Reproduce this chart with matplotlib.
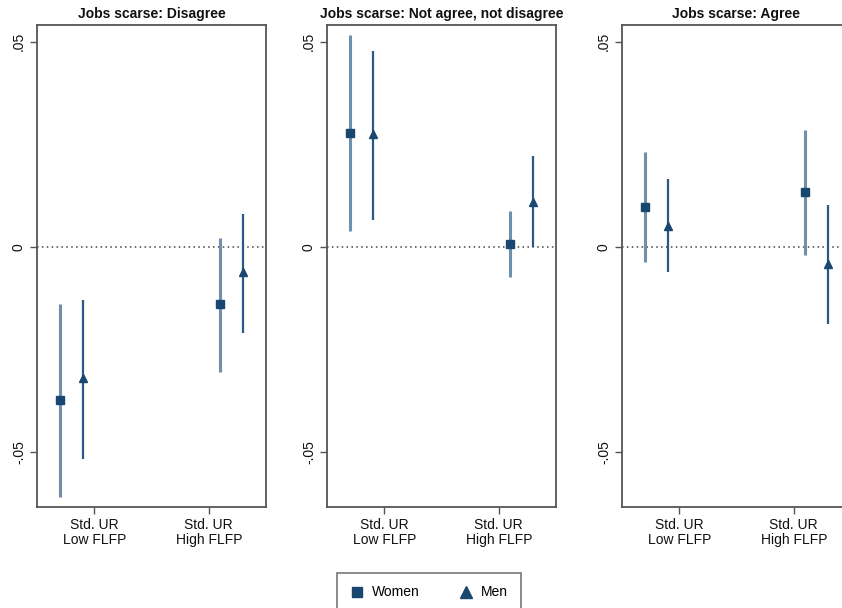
import matplotlib
matplotlib.use("Agg")
import matplotlib.pyplot as plt
from matplotlib.lines import Line2D

plt.rcParams['font.family'] = ['Liberation Sans', 'DejaVu Sans']

panels = ["Jobs scarse: Disagree", "Jobs scarse: Not agree, not disagree", "Jobs scarse: Agree"]
groups = ["Std. UR\nLow FLFP", "Std. UR\nHigh FLFP"]

# Women: [low, high] per panel
women_est = [[-0.0373, -0.0139], [0.0278, 0.0007], [0.0097, 0.0134]]
women_lo  = [[-0.0609, -0.0304], [0.0039, -0.0073], [-0.0037, -0.0019]]
women_hi  = [[-0.0139, 0.0022], [0.0516, 0.0088], [0.0231, 0.0285]]
# Men
men_est = [[-0.0319, -0.0061], [0.0275, 0.0110], [0.0051, -0.0041]]
men_lo  = [[-0.0516, -0.0209], [0.0066, 0.0000], [-0.0061, -0.0188]]
men_hi  = [[-0.0129, 0.0080], [0.0477, 0.0222], [0.0166, 0.0102]]

W, H = 842, 608
fig = plt.figure(figsize=(W / 100, H / 100), dpi=100)

lefts = [37, 327, 622]
ax_w = 229
ax_top, ax_bot = 25, 507

navy = '#1a476f'
women_ci = '#6f8fae'
men_ci = '#2b5986'
spine_c = '#555555'

pos = [1, 2]
w_off = [-0.3, 0.1]
m_off = [-0.1, 0.3]

for i in range(3):
    ax = fig.add_axes([lefts[i] / W, (H - ax_bot) / H, ax_w / W, (ax_bot - ax_top) / H])
    ax.set_xlim(0.5, 2.5)
    ax.set_ylim(-0.0633, 0.0541)
    ax.axhline(0, color='#444444', lw=1.1, ls=(0, (1, 2.2)), zorder=1)
    for j in range(2):
        xw = pos[j] + w_off[j]
        xm = pos[j] + m_off[j]
        ax.plot([xw, xw], [women_lo[i][j], women_hi[i][j]], color=women_ci, lw=2.2, solid_capstyle='butt', zorder=2)
        ax.plot([xw], [women_est[i][j]], marker='s', ms=5.8, color=navy, zorder=3)
        ax.plot([xm, xm], [men_lo[i][j], men_hi[i][j]], color=men_ci, lw=1.6, solid_capstyle='butt', zorder=2)
        ax.plot([xm], [men_est[i][j]], marker='^', ms=6.3, color=navy, zorder=3)
    ax.set_xticks(pos)
    ax.set_xticklabels(groups, fontsize=10, color='#111111', linespacing=1.1)
    ax.set_yticks([-0.05, 0, 0.05])
    ax.set_yticklabels(['-.05', '0', '.05'], fontsize=10, rotation=90, va='center', color='#111111')
    ax.tick_params(axis='both', length=5, width=1, color=spine_c, pad=3)
    for s in ax.spines.values():
        s.set_color(spine_c)
        s.set_linewidth(1.3)
    ax.set_title(panels[i], fontsize=10, fontweight='bold', pad=5, color='#111111')

handles = [Line2D([], [], marker='s', ls='none', ms=7, color=navy, label='Women'),
           Line2D([], [], marker='^', ls='none', ms=8, color=navy, label='Men')]
leg = fig.legend(handles=handles, loc='upper center', bbox_to_anchor=(429 / W, 1 - 566 / H),
                 ncol=2, frameon=True, fancybox=False, edgecolor=spine_c, fontsize=10,
                 handletextpad=0.6, columnspacing=2.8, borderpad=0.9, handlelength=1.0)
leg.get_frame().set_linewidth(1.2)

fig.savefig('out.png', dpi=100)
